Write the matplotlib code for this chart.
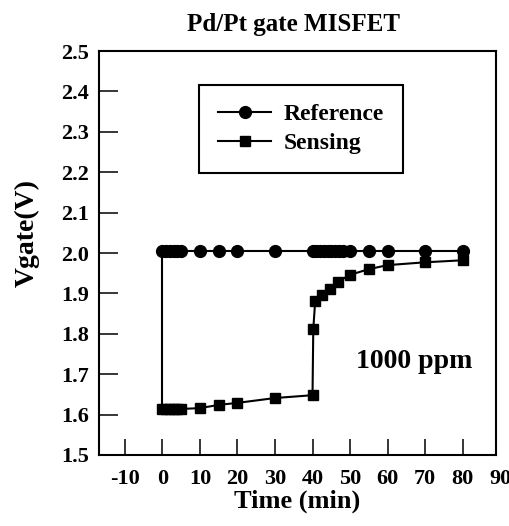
import matplotlib
matplotlib.use("Agg")
import matplotlib.pyplot as plt
import matplotlib.transforms as mtransforms

plt.rcParams['font.family'] = ['Liberation Serif', 'DejaVu Serif']
plt.rcParams['font.weight'] = 'bold'

ref_t = [0, 1, 2, 3, 4, 5, 10, 15, 20, 30, 40, 41, 42, 43, 44, 45, 46, 47, 48, 50, 55, 60, 70, 80]
ref_v = [2.005] * len(ref_t)

sen_t = [0, 0, 1, 2, 3, 4, 5, 10, 15, 20, 30, 40, 40.2, 40.7, 42.5, 44.7, 46.8, 50, 55, 60, 70, 80]
sen_v = [2.005, 1.614, 1.613, 1.613, 1.613, 1.613, 1.614, 1.616, 1.624, 1.629, 1.641, 1.648,
         1.811, 1.880, 1.897, 1.911, 1.929, 1.946, 1.960, 1.970, 1.977, 1.982]

x_ticks = [-10, 0, 10, 20, 30, 40, 50, 60, 70, 80]
y_ticks = [1.5, 1.6, 1.7, 1.8, 1.9, 2.0, 2.1, 2.2, 2.3, 2.4, 2.5]

fig = plt.figure(figsize=(5.09, 5.26), dpi=100)
ax = fig.add_axes([0.1945, 0.135, 0.78, 0.768])

ax.plot(ref_t, ref_v, color='black', lw=1.5, marker='o', ms=8.5, label='Reference')
ax.plot(sen_t[1:], sen_v[1:], color='black', lw=1.5, marker='s', ms=7.5, label='Sensing')
ax.plot(sen_t[:2], sen_v[:2], color='black', lw=1.5)

ax.set_xlim(-16.9, 88.9)
ax.set_ylim(1.5, 2.5)
ax.set_xticks(x_ticks)
ax.set_yticks(y_ticks)
ax.set_xticklabels([str(t) for t in x_ticks])
ax.set_yticklabels([f"{v:.1f}" for v in y_ticks])
ax.tick_params(axis='x', direction='in', length=11.5, width=1.1, pad=10, labelsize=16)
ax.tick_params(axis='y', direction='in', length=13.7, width=1.1, pad=7, labelsize=16)
for s in ax.spines.values():
    s.set_linewidth(1.5)

trans = mtransforms.blended_transform_factory(ax.transData, ax.transAxes)
ax.text(90, 0, '90', ha='center', va='top', fontsize=16, fontweight='bold', clip_on=False,
        transform=trans + mtransforms.ScaledTranslation(0, -10/72, fig.dpi_scale_trans))

ax.set_xlabel('Time (min)', fontsize=19, fontweight='bold')
ax.xaxis.set_label_coords(0.5, -0.085)
ax.xaxis.label.set_va('top')
ax.set_ylabel('Vgate(V)', fontsize=20, fontweight='bold')
ax.yaxis.set_label_coords(-0.149, 0.55)

ax.text(0.49, 1.05, 'Pd/Pt gate MISFET', transform=ax.transAxes, ha='center',
        va='baseline', fontsize=18, fontweight='bold')

ax.text(67, 1.731, '1000 ppm', ha='center', va='center', fontsize=20, fontweight='bold')

leg = ax.legend(loc='upper left', bbox_to_anchor=(0.252, 0.916), fancybox=False,
                edgecolor='black', framealpha=1, fontsize=17, handlelength=2.25,
                handletextpad=0.55, labelspacing=0.3, borderpad=0.8, borderaxespad=0)
leg.get_frame().set_linewidth(1.5)

fig.savefig('out.png', dpi=100)
